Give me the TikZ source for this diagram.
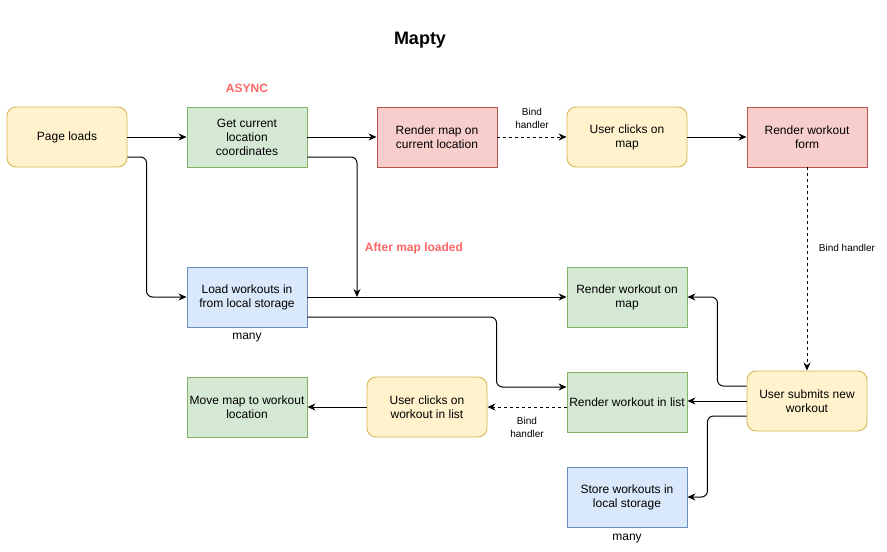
\documentclass[tikz,border=0pt]{standalone}
\usepackage{fontspec}
\setmainfont{Liberation Sans}
\usetikzlibrary{arrows.meta}

\definecolor{ylwfill}{HTML}{FFF2CC}
\definecolor{ylwline}{HTML}{D6B656}
\definecolor{grnfill}{HTML}{D5E8D4}
\definecolor{grnline}{HTML}{82B366}
\definecolor{redfill}{HTML}{F8CECC}
\definecolor{redline}{HTML}{B85450}
\definecolor{bluefill}{HTML}{DAE8FC}
\definecolor{blueline}{HTML}{6C8EBF}
\definecolor{notered}{HTML}{FF6666}

\tikzset{
  box/.style={draw, line width=0.9pt, minimum width=120pt, minimum height=60pt,
              align=center, inner sep=0pt,
              font=\fontsize{12}{14}\selectfont},
  ylwbox/.style={box, fill=ylwfill, draw=ylwline, rounded corners=9pt},
  grnbox/.style={box, fill=grnfill, draw=grnline},
  redbox/.style={box, fill=redfill, draw=redline},
  bluebox/.style={box, fill=bluefill, draw=blueline},
  arr/.style={line width=1pt, -{Stealth[length=8pt,width=7pt]}, rounded corners=6pt},
  dasharr/.style={arr, dash pattern=on 3pt off 3pt},
  note/.style={font=\fontsize{10}{13}\selectfont, align=center},
  rednote/.style={font=\bfseries\fontsize{12}{14}\selectfont, text=notered}
}

\begin{document}
\begin{tikzpicture}[x=1pt, y=-1pt]
\useasboundingbox (0,0) rectangle (887,552);

\node[font=\bfseries\fontsize{18}{22}\selectfont] (title) at (420,40) {Mapty};

\node[ylwbox]  (page)     at (67,137)  {Page loads};
\node[grnbox]  (coords)   at (247,137) {Get current\\location\\coordinates};
\node[redbox]  (rendermap) at (437,137) {Render map on\\current location};
\node[ylwbox]  (clickmap) at (627,137) {User clicks on\\map};
\node[redbox]  (form)     at (807,137) {Render workout\\form};
\node[bluebox] (load)     at (247,297) {Load workouts in\\from local storage};
\node[grnbox]  (onmap)    at (627,297) {Render workout on\\map};
\node[grnbox]  (move)     at (247,407) {Move map to workout\\location};
\node[ylwbox]  (clicklist) at (427,407) {User clicks on\\workout in list};
\node[grnbox]  (inlist)   at (627,402) {Render workout in list};
\node[ylwbox]  (submit)   at (807,401) {User submits new\\workout};
\node[bluebox] (store)    at (627,497) {Store workouts in\\local storage};

\node[rednote] (async) at (247,88) {ASYNC};
\node[rednote] (after) at (414,248) {After map loaded};
\node[font=\fontsize{12}{14}\selectfont] (many1) at (247,338) {many};
\node[font=\fontsize{12}{14}\selectfont] (many2) at (627,539) {many};
\node[note] (bind2) at (847,248) {Bind handler};

\coordinate (merge) at (357,297);

\draw[arr] (page.east) -- (coords.west);
\draw[arr] ([yshift=-20pt]page.east) -| ([xshift=-40pt]load.west) -- (load.west);
\draw[arr] (coords.east) -- (rendermap.west);
\draw[arr] ([yshift=-20pt]coords.east) -| (merge);
\draw[dasharr] (rendermap.east) -- (clickmap.west)
  node[note, midway, above=5pt] (bind1) {Bind\\handler};
\draw[arr] (clickmap.east) -- (form.west);
\draw[dasharr] (form.south) -- (submit.north);
\draw[arr] (load.east) -- (onmap.west);
\draw[arr] ([yshift=-20pt]load.east) -| ([xshift=-70pt,yshift=15pt]inlist.west)
  -- ([yshift=15pt]inlist.west);
\draw[arr] ([yshift=15pt]submit.west) -| ([xshift=30pt]onmap.east) -- (onmap.east);
\draw[arr] (submit.west) -- (submit.west -| inlist.east);
\draw[arr] ([yshift=-15pt]submit.west) -| ([xshift=20pt]store.east) -- (store.east);
\draw[dasharr] ([yshift=-5pt]inlist.west) -- (clicklist.east)
  node[note, midway, below=6pt] (bind3) {Bind\\handler};
\draw[arr] (clicklist.west) -- (move.east);
\end{tikzpicture}
\end{document}
